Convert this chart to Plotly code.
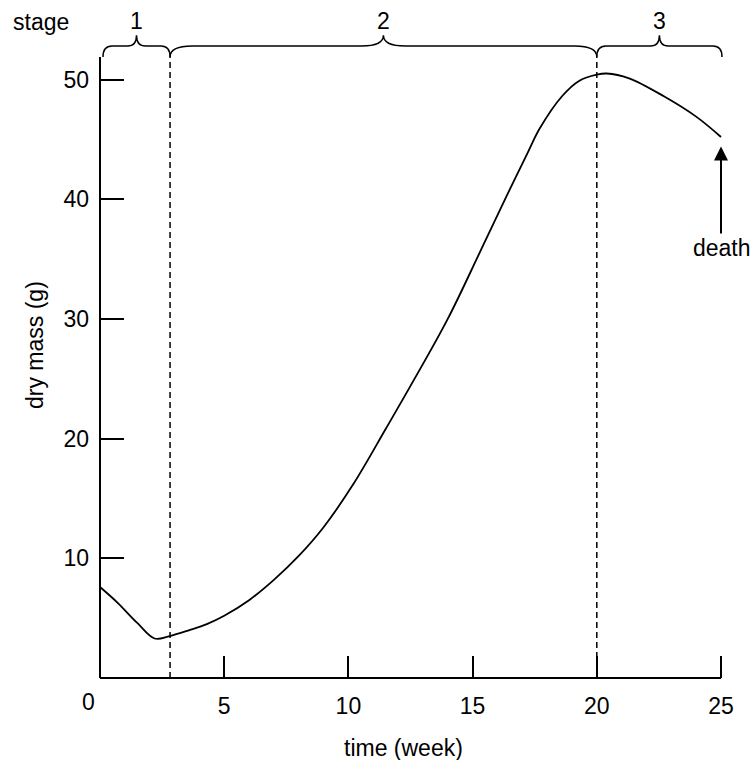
import plotly.graph_objects as go

# ---- data ----
weeks = [0, 0.7, 1.5, 2.2, 2.8, 3.6, 4.3, 5.0, 6.0, 7.0, 8.0, 9.0, 10.2, 11.5, 12.5,
         14.0, 15.3, 16.4, 17.2, 17.7, 18.6, 19.3, 20.0, 20.4, 21.3, 22.7, 24.0, 25.0]
dry_mass = [7.6, 6.3, 4.6, 3.3, 3.5, 4.0, 4.5, 5.2, 6.5, 8.2, 10.2, 12.6, 16.2, 20.8, 24.4,
            30.0, 35.6, 40.4, 43.8, 45.9, 48.6, 49.9, 50.4, 50.5, 50.1, 48.6, 46.9, 45.2]
stage_bounds = [0.12, 2.82, 20.0, 25.04]
stage_labels = ["1", "2", "3"]
x_ticks = [5, 10, 15, 20, 25]
y_ticks = [10, 20, 30, 40, 50]
death_week = 25.0
death_arrow = [37.0, 44.4]

FONT = "Liberation Sans, Arial, sans-serif"
FS = 23
PX_X = 24.84   # px per week
PX_Y = 11.97   # px per gram
W_PLOT = 646
H_PLOT = 663

Y_LINE = 52.8
Y_TIP = 53.7
Y_END = 51.88
Y_LABEL = 54.85


def brace(x0, x1, r_px):
    r = r_px / PX_X
    xm = (x0 + x1) / 2
    return (f"M {x0},{Y_END} Q {x0},{Y_LINE} {x0 + r},{Y_LINE} "
            f"L {xm - r},{Y_LINE} Q {xm},{Y_LINE} {xm},{Y_TIP} "
            f"Q {xm},{Y_LINE} {xm + r},{Y_LINE} "
            f"L {x1 - r},{Y_LINE} Q {x1},{Y_LINE} {x1},{Y_END}")


def px2paper_x(px):
    return (px - 100) / W_PLOT


def px2paper_y(py):
    return (678 - py) / H_PLOT


fig = go.Figure()
fig.add_trace(go.Scatter(x=weeks, y=dry_mass, mode="lines",
                         line=dict(color="black", width=1.8, shape="spline", smoothing=1.0),
                         hoverinfo="skip", showlegend=False))

shapes = []
shapes.append(dict(type="line", xref="paper", yref="y", x0=0, x1=0, y0=0, y1=Y_END,
                   line=dict(color="black", width=2)))
shapes.append(dict(type="line", xref="x", yref="paper", x0=0, x1=25, y0=0, y1=0,
                   line=dict(color="black", width=2)))
for xb in stage_bounds[1:3]:
    shapes.append(dict(type="line", xref="x", yref="y", x0=xb, x1=xb, y0=0, y1=Y_END,
                       line=dict(color="black", width=1.5, dash="6px,4px")))
radii = [9, 22, 9]
for i in range(3):
    shapes.append(dict(type="path", xref="x", yref="y",
                       path=brace(stage_bounds[i], stage_bounds[i + 1], radii[i]),
                       line=dict(color="black", width=1.5)))

txt = dict(family=FONT, size=FS, color="black")
annotations = []
for i, lab in enumerate(stage_labels):
    annotations.append(dict(x=(stage_bounds[i] + stage_bounds[i + 1]) / 2, y=Y_LABEL,
                            xref="x", yref="y", text=lab, showarrow=False,
                            xanchor="center", yanchor="middle", font=txt))
annotations.append(dict(x=px2paper_x(41), y=px2paper_y(22), xref="paper", yref="paper",
                        text="stage", showarrow=False, xanchor="center", yanchor="middle",
                        font=txt))
annotations.append(dict(x=death_week, y=death_arrow[1], ax=death_week, ay=death_arrow[0],
                        xref="x", yref="y", axref="x", ayref="y", text="",
                        showarrow=True, arrowhead=2, arrowsize=1.4, arrowwidth=2,
                        arrowcolor="black", standoff=0))
annotations.append(dict(x=death_week + 0.04, y=35.9, xref="x", yref="y", text="death",
                        showarrow=False, xanchor="center", yanchor="middle", font=txt))
annotations.append(dict(x=px2paper_x(88), y=px2paper_y(702), xref="paper", yref="paper",
                        text="0", showarrow=False, xanchor="center", yanchor="middle",
                        font=txt))
annotations.append(dict(x=px2paper_x(403), y=px2paper_y(748), xref="paper", yref="paper",
                        text="time (week)", showarrow=False, xanchor="center",
                        yanchor="middle", font=txt))
annotations.append(dict(x=px2paper_x(35), y=px2paper_y(345), xref="paper", yref="paper",
                        text="dry mass (g)", textangle=-90, showarrow=False,
                        xanchor="center", yanchor="middle", font=txt))

fig.update_layout(
    width=754, height=760, autosize=False,
    margin=dict(l=100, r=8, t=15, b=82, pad=0),
    paper_bgcolor="white", plot_bgcolor="white",
    shapes=shapes, annotations=annotations,
    showlegend=False,
    xaxis=dict(range=[0, W_PLOT / PX_X], tickvals=x_ticks, ticktext=[str(v) for v in x_ticks],
               ticks="inside", ticklen=22, tickwidth=2, tickcolor="black",
               showline=False, showgrid=False, zeroline=False, ticklabelstandoff=12,
               tickfont=txt, fixedrange=True),
    yaxis=dict(range=[0, H_PLOT / PX_Y], tickvals=y_ticks, ticktext=[str(v) for v in y_ticks],
               ticks="inside", ticklen=24, tickwidth=2, tickcolor="black",
               showline=False, showgrid=False, zeroline=False, ticklabelstandoff=10,
               tickfont=txt, fixedrange=True),
)

fig.write_html("out.html")
